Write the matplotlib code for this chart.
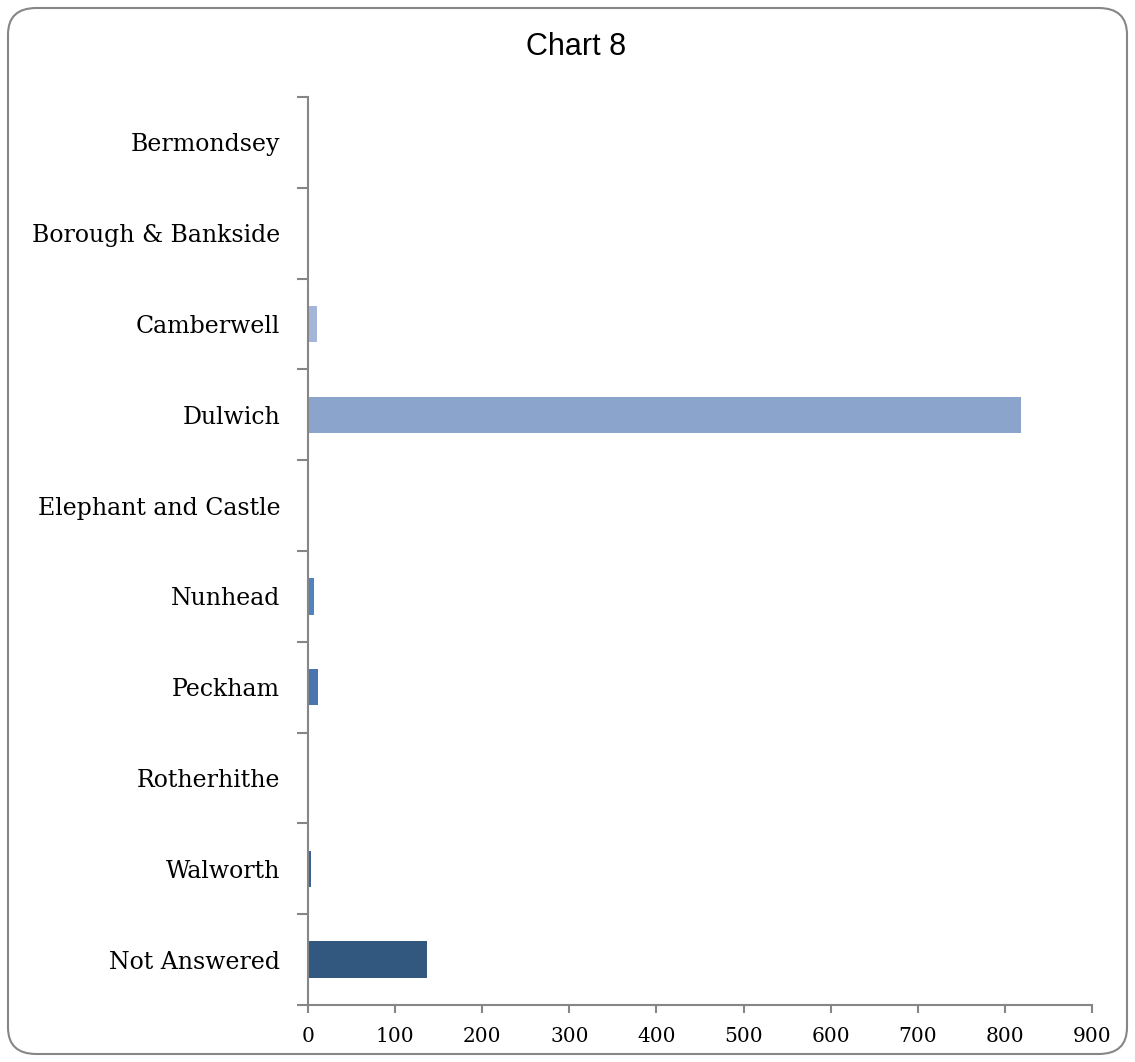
import matplotlib
matplotlib.use("Agg")
import matplotlib.pyplot as plt
from matplotlib.patches import FancyBboxPatch
import numpy as np

# Responses by area
areas = ["Bermondsey", "Borough & Bankside", "Camberwell", "Dulwich",
         "Elephant and Castle", "Nunhead", "Peckham", "Rotherhithe",
         "Walworth", "Not Answered"]
counts = [0, 1, 10, 819, 0, 7, 11, 0, 3, 137]
bar_colors = ["#B9C7E1", "#AEBEDC", "#A3B6D8", "#8AA4CB", "#6A8FC4",
              "#5083BF", "#4A75AE", "#436A9E", "#3D6192", "#33587F"]
x_ticks = [0, 100, 200, 300, 400, 500, 600, 700, 800, 900]

W, H = 1135, 1062
fig = plt.figure(figsize=(W / 100, H / 100), dpi=100)

# rounded chart border, kept behind the axes
border = FancyBboxPatch((8 / W, 8 / H), (W - 16) / W, (H - 16) / H,
                        boxstyle="round,pad=0,rounding_size=0.025",
                        transform=fig.transFigure, facecolor="white",
                        edgecolor="#868686", linewidth=1.5, zorder=-5)
fig.patches.append(border)

left, right, top, bottom = 308, 1092, 97, 1005
ax = fig.add_axes([left / W, 1 - bottom / H, (right - left) / W, (bottom - top) / H])
ax.set_facecolor("none")
ax.set_zorder(2)

y = np.arange(len(areas))
ax.barh(y, counts, height=0.4, color=bar_colors)
ax.set_xlim(0, 900)
ax.set_ylim(len(areas) - 0.5, -0.5)

serif = ["DejaVu Serif"]
ax.set_yticks(y)
ax.set_yticklabels(areas, fontsize=17, family=serif)
ax.set_yticks(np.arange(-0.5, len(areas)), minor=True)
ax.tick_params(axis="y", which="major", length=0, pad=20)
ax.tick_params(axis="y", which="minor", length=8, width=1.5, color="#868686")

ax.set_xticks(x_ticks)
ax.set_xticklabels([str(v) for v in x_ticks], fontsize=14.5, family=serif)
ax.tick_params(axis="x", which="major", length=6, width=1.5, color="#868686", pad=10)

for s in ["top", "right"]:
    ax.spines[s].set_visible(False)
for s in ["left", "bottom"]:
    ax.spines[s].set_color("#868686")
    ax.spines[s].set_linewidth(1.5)

fig.text(576 / W, 1 - 47 / H, "Chart 8", ha="center", va="center",
         fontsize=22, family=["Liberation Sans"], zorder=3)

fig.savefig("out.png", dpi=100)
